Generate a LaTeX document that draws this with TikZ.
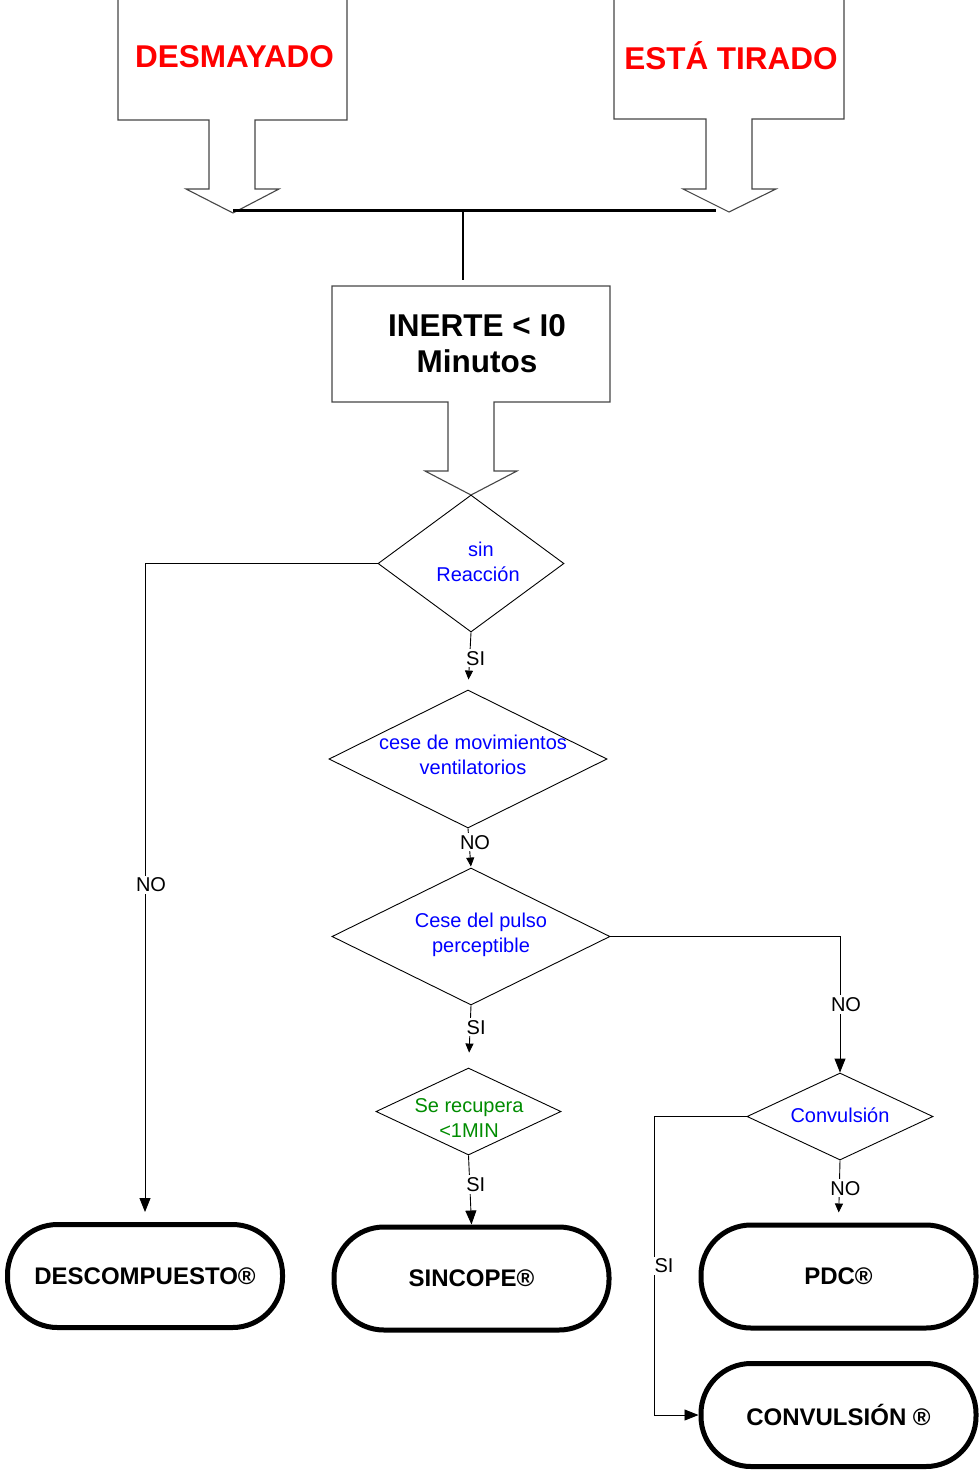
\documentclass[tikz,border=0pt]{standalone}
\usepackage{fontspec}
\setmainfont{Liberation Sans}
\usetikzlibrary{shapes.geometric,arrows.meta}
\definecolor{qred}{RGB}{255,0,0}
\definecolor{qblue}{RGB}{0,0,255}
\definecolor{qgreen}{RGB}{0,140,0}
\definecolor{callline}{RGB}{70,70,70}
\tikzset{
  callout/.style={draw=callline,line width=1.1pt,fill=white,line join=miter},
  calltext/.style={font=\bfseries\fontsize{31.5}{36}\selectfont,align=center,inner sep=0pt},
  decision/.style={draw=black,line width=0.9pt,shape=diamond,inner sep=0pt,aspect=1.4},
  qtext/.style={font=\fontsize{20}{24.5}\selectfont,align=center,inner sep=0pt},
  terminal/.style={draw=black,line width=5pt,rounded corners=50pt,minimum width=275pt,
    minimum height=103pt,font=\bfseries\fontsize{24}{28}\selectfont,inner sep=0pt},
  flow/.style={draw=black,line width=0.9pt},
  smallarrow/.style={-{Triangle[width=8pt,length=9pt]}},
  bigarrow/.style={-{Triangle[width=11pt,length=14pt]}},
  lbl/.style={fill=white,font=\fontsize{20}{24}\selectfont,inner sep=2pt,xshift=6pt},
}
\begin{document}
\begin{tikzpicture}[x=1pt,y=-1pt]
\useasboundingbox (0,0) rectangle (980,1470);

% top callouts with their block arrows
\draw[callout] (118,-10) -- (118,120) -- (209,120) -- (209,189) -- (186,189) -- (233,213)
  -- (279,189) -- (255,189) -- (255,120) -- (347,120) -- (347,-10);
\node[calltext,text=qred] (desm) at (234.5,57) {DESMAYADO};

\draw[callout] (614,-10) -- (614,119) -- (706,119) -- (706,189) -- (683,189) -- (729,212)
  -- (776,189) -- (752,189) -- (752,119) -- (844,119) -- (844,-10);
\node[calltext,text=qred,anchor=base] (tirado) at (731,69) {ESTÁ TIRADO};

% joining bar
\coordinate (barL) at (233,210);
\coordinate (barR) at (716,210);
\coordinate (barM) at (463,210);
\coordinate (barD) at (463,280);
\draw[line width=3pt] (barL) -- (barR);
\draw[line width=2.5pt] (barM) -- (barD);

% INERTE callout
\draw[callout] (448,402) -- (332,402) -- (332,286) -- (610,286) -- (610,402) -- (494,402)
  -- (494,471) -- (517,471) -- (471,495) -- (425,471) -- (448,471) -- cycle;
\node[calltext,text=black] (inerte) at (477,344) {INERTE < I0\\Minutos};

% decisions
\node[decision,minimum width=186pt,minimum height=137pt] (d1) at (471,563.5) {};
\node[qtext,text=qblue] (t1) at (478,562) {\hspace*{6pt}sin\\Reacción};

\node[decision,minimum width=278pt,minimum height=138pt] (d2) at (468,759) {};
\node[qtext,text=qblue] (t2) at (473,755) {cese de movimientos\\ventilatorios};

\node[decision,minimum width=278pt,minimum height=137pt] (d3) at (471,936.5) {};
\node[qtext,text=qblue] (t3) at (481,935) {Cese del pulso\\perceptible};

\node[decision,minimum width=185pt,minimum height=87pt] (d4) at (468.5,1111.5) {};
\node[qtext,text=qgreen] (t4) at (469,1118) {Se recupera\\<1MIN};

\node[decision,minimum width=186pt,minimum height=87pt] (d5) at (840,1116.5) {};
\node[qtext,text=qblue] (t5) at (840,1115) {Convulsión};

% terminals
\node[terminal] (desc) at (145,1276) {DESCOMPUESTO®};
\node[terminal] (sinc) at (471.5,1278.5) {SINCOPE®};
\node[terminal] (pdc) at (838.5,1276.5) {PDC®};
\node[terminal] (conv) at (838.5,1415) {CONVULSIÓN ®};

% connectors
\draw[flow,bigarrow,shorten >=10pt] (d1.west) -| node[lbl,pos=0.744,xshift=0pt] {NO} (desc.north);
\draw[flow,smallarrow,shorten >=10pt] (d1.south) -- node[lbl,pos=0.45] {SI} (d2.north);
\draw[flow,smallarrow,shorten >=1pt] (d2.south) -- node[lbl,pos=0.35] {NO} (d3.north);
\draw[flow,smallarrow,shorten >=15pt] (d3.south) -- node[lbl,pos=0.35] {SI} (d4.north);
\draw[flow,bigarrow] (d4.south) -- node[lbl,pos=0.42] {SI} (sinc.north);
\draw[flow,bigarrow] (d3.east) -| node[lbl,pos=0.75] {NO} (d5.north);
\draw[flow,smallarrow,shorten >=10pt] (d5.south) -- node[lbl,pos=0.45] {NO} (pdc.north);
\coordinate (siCorner) at (654,1116.5);
\draw[flow,bigarrow] (d5.west) -- (siCorner) |- node[lbl,pos=0.25,xshift=4pt] {SI} (conv.west);
\end{tikzpicture}
\end{document}
